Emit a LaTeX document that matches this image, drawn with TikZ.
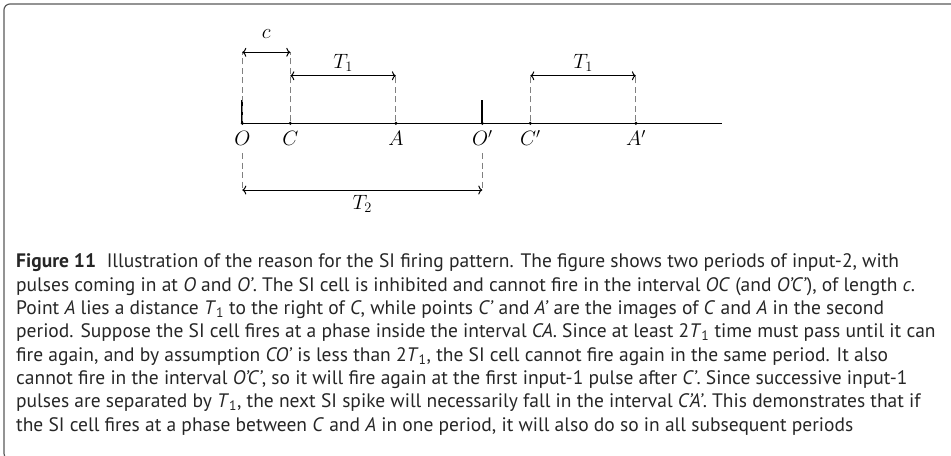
\documentclass[tikz,border=0pt]{standalone}
\usepackage{fontspec}
\setmainfont{PT Sans}
\usetikzlibrary{arrows.meta}

\tikzset{
  dot/.style={circle, fill, inner sep=0pt, minimum size=3.4pt},
  guide/.style={gray, line width=0.9pt, dash pattern=on 6pt off 3.5pt},
  span/.style={<->, line width=1pt},
  tick/.style={line width=1.6pt},
  lbl/.style={anchor=base, yshift=-22.5pt},
  capline/.style={anchor=base west, inner sep=0pt, text=black!85,
    font=\fontsize{19.5}{23}\selectfont},
  frame/.style={gray!70!black, line width=1.2pt, rounded corners=6pt}
}

\begin{document}
\begin{tikzpicture}[x=48pt, y=48pt, font=\fontsize{20}{24}\selectfont,
  >={To[length=4pt, width=9pt]}]
  \clip (-5.048,-6.931) rectangle (14.765,2.569);
  \draw[frame] (-4.965,-7.0) rectangle (16,2.486);

  % time axis and the points on it
  \draw[line width=1.4pt] (0,0) -- (10,0);
  \node[dot] (O) at (0,0) {};   \node[dot] (C) at (1,0) {};
  \node[dot] (A) at (3.2,0) {}; \node[dot] (Op) at (5,0) {};
  \node[dot] (Cp) at (6,0) {};  \node[dot] (Ap) at (8.2,0) {};
  \draw[tick] (O.center) -- ++(0,0.48);
  \draw[tick] (Op.center) -- ++(0,0.48);
  \node[lbl] (lO) at (O) {$O$};     \node[lbl] (lC) at (C) {$C$};
  \node[lbl] (lA) at (A) {$A$};     \node[lbl] (lOp) at (Op) {$O'$};
  \node[lbl] (lCp) at (Cp) {$C'$};  \node[lbl] (lAp) at (Ap) {$A'$};

  % ends of the spans
  \coordinate (cL) at (0,1.48);    \coordinate (cR) at (1,1.48);
  \coordinate (tL) at (1,0.99);    \coordinate (tR) at (3.2,0.99);
  \coordinate (tLp) at (6,0.99);   \coordinate (tRp) at (8.2,0.99);
  \coordinate (dO) at (0,-0.62);   \coordinate (dOp) at (5,-0.62);
  \coordinate (sL) at (0,-1.39);   \coordinate (sR) at (5,-1.39);

  \draw[guide] (O) -- (cL);  \draw[guide] (C) -- (cR);
  \draw[guide] (A) -- (tR);  \draw[guide] (Cp) -- (tLp);
  \draw[guide] (Ap) -- (tRp);
  \draw[guide] (dO) -- (sL); \draw[guide] (dOp) -- (sR);

  \draw[span] (cL) -- node[above=9.5pt] (lc) {$c$} (cR);
  \draw[span] (tL) -- node[above=0.5pt] (lT1) {$T_1$} (tR);
  \draw[span] (tLp) -- node[above=0.5pt] (lT1p) {$T_1$} (tRp);
  \draw[span] (sL) -- node[below=1.6pt] (lT2) {$T_2$} (sR);

  % caption
  \node[capline] (cap1) at (-4.715,-3.014) {\textbf{Figure 11}\hspace{0.55em}Illustration of the reason for the SI firing pattern. The figure shows two periods of input-2, with};
  \node[capline] (cap2) at ([yshift=-23.3pt]cap1.base west) {pulses coming in at \textit{O} and \textit{O'}. The SI cell is inhibited and cannot fire in the interval \textit{OC} (and \textit{O'C'}), of length \textit{c}.};
  \node[capline] (cap3) at ([yshift=-23.3pt]cap2.base west) {Point \textit{A} lies a distance \textit{T}\textsubscript{1} to the right of \textit{C}, while points \textit{C'} and \textit{A'} are the images of \textit{C} and \textit{A} in the second};
  \node[capline] (cap4) at ([yshift=-23.3pt]cap3.base west) {period. Suppose the SI cell fires at a phase inside the interval \textit{CA}. Since at least 2\textit{T}\textsubscript{1} time must pass until it can};
  \node[capline] (cap5) at ([yshift=-23.3pt]cap4.base west) {fire again, and by assumption \textit{CO'} is less than 2\textit{T}\textsubscript{1}, the SI cell cannot fire again in the same period. It also};
  \node[capline] (cap6) at ([yshift=-23.3pt]cap5.base west) {cannot fire in the interval \textit{O'C'}, so it will fire again at the first input-1 pulse after \textit{C'}. Since successive input-1};
  \node[capline] (cap7) at ([yshift=-23.3pt]cap6.base west) {pulses are separated by \textit{T}\textsubscript{1}, the next SI spike will necessarily fall in the interval \textit{C'A'}. This demonstrates that if};
  \node[capline] (cap8) at ([yshift=-23.3pt]cap7.base west) {the SI cell fires at a phase between \textit{C} and \textit{A} in one period, it will also do so in all subsequent periods};
\end{tikzpicture}
\end{document}
